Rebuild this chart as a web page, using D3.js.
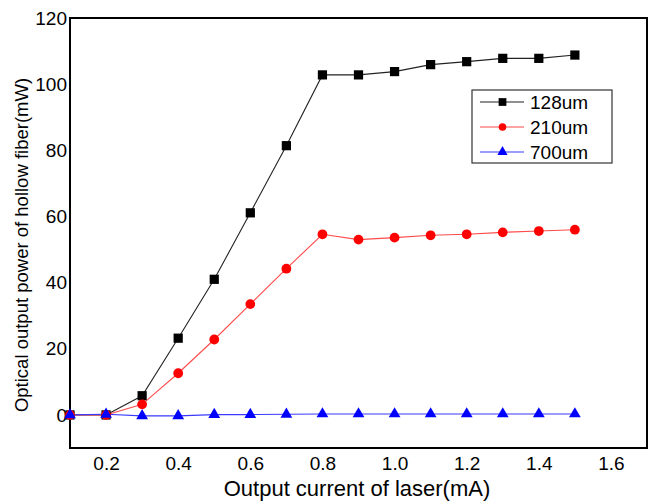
<!DOCTYPE html>
<html>
<head>
<meta charset="utf-8">
<script src="https://cdn.jsdelivr.net/npm/d3@7"></script>
<style>
  html, body { margin: 0; padding: 0; background: #fff; }
  svg { display: block; }
  text { font-family: "Liberation Sans", Arial, sans-serif; fill: #000; }
</style>
</head>
<body>
<svg id="chart" width="650" height="502"></svg>
<script>
const current = [0.1, 0.2, 0.3, 0.4, 0.5, 0.6, 0.7, 0.8, 0.9, 1.0, 1.1, 1.2, 1.3, 1.4, 1.5];
const power128 = [0, 0, 5.8, 23.2, 41.0, 61.1, 81.4, 102.8, 102.8, 103.8, 105.9, 106.8, 107.8, 107.8, 108.8];
const power210 = [0, 0, 3.2, 12.6, 22.8, 33.5, 44.2, 54.6, 53.0, 53.6, 54.3, 54.6, 55.2, 55.6, 56.0];
const power700 = [0, 0.2, -0.3, -0.3, 0.1, 0.1, 0.2, 0.3, 0.3, 0.3, 0.3, 0.3, 0.3, 0.3, 0.3];
const seriesNames = ["128um", "210um", "700um"];
const xTicks = [0.2, 0.4, 0.6, 0.8, 1.0, 1.2, 1.4, 1.6];
const yTicks = [0, 20, 40, 60, 80, 100, 120];
const xTitle = "Output current of laser(mA)";
const yTitle = "Optical output power of hollow fiber(mW)";

(function () {
const series = [
  { name: seriesNames[0], values: power128, line: "#222", fill: "#000", shape: d3.symbolSquare },
  { name: seriesNames[1], values: power210, line: "#ff4a4a", fill: "#ff0000", shape: d3.symbolCircle },
  { name: seriesNames[2], values: power700, line: "#3a3aff", fill: "#0000ff", shape: d3.symbolTriangle }
];

const svg = d3.select("#chart");
const mLeft = 70, mRight = 647, mTop = 18, mBottom = 448;
const x = d3.scaleLinear().domain([0.1, 1.7]).range([mLeft, mRight]);
const y = d3.scaleLinear().domain([-10, 120]).range([mBottom, mTop]);

// frame
svg.append("rect")
  .attr("x", mLeft).attr("y", mTop)
  .attr("width", mRight - mLeft).attr("height", mBottom - mTop)
  .attr("fill", "none").attr("stroke", "#000").attr("stroke-width", 2);

// x axis labels
const xAxis = d3.axisBottom(x).tickValues(xTicks).tickFormat(d3.format(".1f")).tickSize(0).tickPadding(9);
const gx = svg.append("g").attr("transform", `translate(0,${mBottom})`).call(xAxis);
gx.select(".domain").remove();
gx.selectAll("text").attr("font-size", 19).attr("font-family", "Liberation Sans, Arial, sans-serif").attr("fill", "#000");

// y axis labels
const yAxis = d3.axisLeft(y).tickValues(yTicks).tickFormat(d3.format("d")).tickSize(0).tickPadding(3);
const gy = svg.append("g").attr("transform", `translate(${mLeft},0)`).call(yAxis);
gy.select(".domain").remove();
gy.selectAll("text").attr("font-size", 19).attr("font-family", "Liberation Sans, Arial, sans-serif").attr("fill", "#000");

// titles
svg.append("text").attr("x", 357).attr("y", 496).attr("text-anchor", "middle")
  .attr("font-size", 22).text(xTitle);
svg.append("text").attr("transform", "translate(28,245) rotate(-90)").attr("text-anchor", "middle")
  .attr("font-size", 18.5).text(yTitle);

const line = d3.line().x((d, i) => x(current[i])).y(d => y(d));
const markerSize = { "128um": 85, "210um": 75, "700um": 60 };
series.forEach(s => {
  svg.append("path").datum(s.values)
    .attr("d", line).attr("fill", "none")
    .attr("stroke", s.line).attr("stroke-width", 1.1);
});
series.forEach(s => {
  svg.append("g").selectAll("path").data(s.values).join("path")
    .attr("transform", (d, i) => `translate(${x(current[i])},${y(d)})`)
    .attr("d", d3.symbol().type(s.shape).size(markerSize[s.name]))
    .attr("fill", s.fill);
});

// legend
const lg = svg.append("g");
lg.append("rect").attr("x", 472).attr("y", 90).attr("width", 140).attr("height", 73)
  .attr("fill", "#fff").attr("stroke", "#333").attr("stroke-width", 1.2);
const legSize = { "128um": 60, "210um": 45, "700um": 45 };
series.forEach((s, i) => {
  const ry = 102 + i * 25;
  lg.append("line").attr("x1", 480).attr("x2", 524).attr("y1", ry).attr("y2", ry)
    .attr("stroke", s.line).attr("stroke-width", 1.2);
  lg.append("path").attr("transform", `translate(502.5,${ry})`)
    .attr("d", d3.symbol().type(s.shape).size(legSize[s.name])).attr("fill", s.fill);
  lg.append("text").attr("x", 530).attr("y", ry + 7).attr("font-size", 19).text(s.name);
});
})();
</script>
</body>
</html>
